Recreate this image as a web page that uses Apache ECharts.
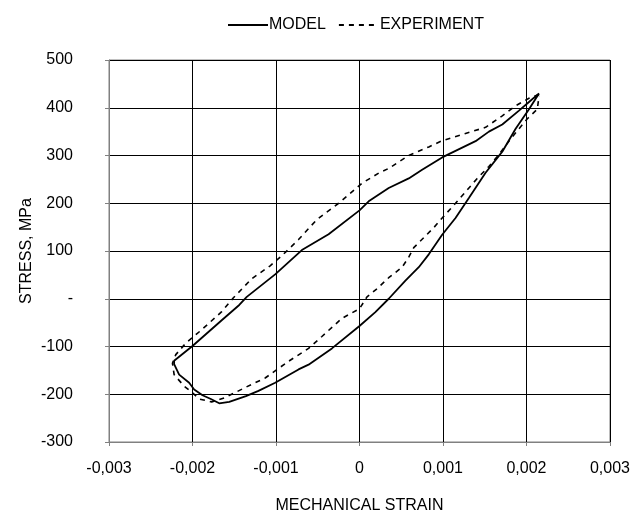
<!DOCTYPE html>
<html>
<head>
<meta charset="utf-8">
<script src="https://cdn.jsdelivr.net/npm/echarts@6/dist/echarts.min.js"></script>
<style>html,body{margin:0;padding:0;background:#fff}#c{width:633px;height:519px}</style>
</head>
<body>
<div id="c"></div>
<script>
// MODEL loop: strain, stress (MPa)
const modelStrain = [0.00215,0.00203,0.00191,0.00171,0.00155,0.00139,0.00099,0.00075,0.00059,0.00035,0.00011,0.00000,-0.00037,-0.00069,-0.00101,-0.00135,-0.00144,-0.00165,-0.00200,-0.00222,-0.00222,-0.00216,-0.00204,-0.00198,-0.00188,-0.00178,-0.00168,-0.00156,-0.00136,-0.00121,-0.00101,-0.00073,-0.00061,-0.00033,0.00000,0.00019,0.00035,0.00055,0.00071,0.00083,0.00099,0.00115,0.00131,0.00151,0.00171,0.00187,0.00203,0.00215];
const modelStress = [430,412,394,365,350,330,296,270,252,232,204,185,135,102,51,4,-13,-45,-99,-130,-137,-159,-176,-190,-202,-210,-219,-216,-204,-193,-176,-148,-138,-104,-57,-28,0,38,66,93,134,169,211,264,308,356,397,430];
// EXPERIMENT loop
const expStrain = [0.00215,0.00203,0.00187,0.00171,0.00151,0.00127,0.00099,0.00083,0.00059,0.00035,0.00023,0.00003,-0.00025,-0.00051,-0.00073,-0.00093,-0.00107,-0.00129,-0.00151,-0.00165,-0.00189,-0.00208,-0.00220,-0.00224,-0.00222,-0.00210,-0.00200,-0.00192,-0.00177,-0.00161,-0.00137,-0.00113,-0.00085,-0.00061,-0.00045,-0.00021,0.00000,0.00009,0.00021,0.00035,0.00051,0.00059,0.00065,0.00089,0.00099,0.00115,0.00129,0.00141,0.00155,0.00167,0.00183,0.00201,0.00213,0.00215];
const expStress = [428,420,404,383,359,346,331,318,300,273,263,242,200,166,124,90,69,42,2,-27,-65,-93,-117,-135,-159,-183,-197,-210,-216,-207,-186,-166,-131,-104,-79,-41,-21,4,21,44,66,87,107,149,169,200,228,252,277,302,339,377,397,425];
// axes
const xMin = -0.003, xMax = 0.003, xStep = 0.001;
const yMin = -300, yMax = 500, yStep = 100;

const pair = (xs, ys) => xs.map((x, i) => [x, ys[i]]);
const font = 'Liberation Sans, Arial, sans-serif';
const fs = 16;
const chart = echarts.init(document.getElementById('c'), null, {renderer: 'canvas'});
chart.setOption({
  animation: false,
  backgroundColor: '#fff',
  textStyle: {fontFamily: font, color: '#000'},
  legend: {
    top: 12, left: 222,
    itemWidth: 40, itemHeight: 12, itemGap: 12,
    itemStyle: {opacity: 0},
    textStyle: {fontSize: fs, color: '#000', fontFamily: font, padding: [0, 0, 0, -4]},
    data: ['MODEL', 'EXPERIMENT']
  },
  grid: {left: 109, right: 22, top: 60, bottom: 73, show: true, borderColor: '#808080', borderWidth: 1},
  xAxis: {
    type: 'value', min: xMin, max: xMax, interval: xStep,
    name: 'MECHANICAL STRAIN', nameLocation: 'middle', nameGap: 56, nameMoveOverlap: false,
    nameTextStyle: {fontSize: fs, color: '#000', fontFamily: font},
    axisLine: {show: true, onZero: false, lineStyle: {color: '#808080'}},
    axisTick: {show: true, inside: false, length: 4, lineStyle: {color: '#808080'}},
    axisLabel: {fontSize: fs, color: '#000', margin: 19, fontFamily: font,
      formatter: v => Math.abs(v) < 1e-9 ? '0' : v.toFixed(3).replace('.', ',')},
    splitLine: {show: true, lineStyle: {color: '#000', width: 1}}
  },
  yAxis: {
    type: 'value', min: yMin, max: yMax, interval: yStep,
    name: 'STRESS, MPa', nameLocation: 'middle', nameGap: 74, nameRotate: 90, nameMoveOverlap: false,
    nameTextStyle: {fontSize: fs, color: '#000', fontFamily: font},
    axisLine: {show: true, onZero: false, lineStyle: {color: '#808080'}},
    axisTick: {show: true, inside: false, length: 4, lineStyle: {color: '#808080'}},
    axisLabel: {fontSize: fs, color: '#000', margin: 36, fontFamily: font,
      formatter: v => v === 0 ? '-' : String(v)},
    splitLine: {show: true, lineStyle: {color: '#000', width: 1}}
  },
  series: [
    {name: 'MODEL', type: 'line', data: pair(modelStrain, modelStress), symbol: 'none', smooth: false,
     lineStyle: {color: '#000', width: 1.8, type: 'solid'}, itemStyle: {color: '#000'}},
    {name: 'EXPERIMENT', type: 'line', data: pair(expStrain, expStress), symbol: 'none', smooth: false,
     lineStyle: {color: '#000', width: 1.6, type: [5, 5]}, itemStyle: {color: '#000'}}
  ]
});
</script>
</body>
</html>
